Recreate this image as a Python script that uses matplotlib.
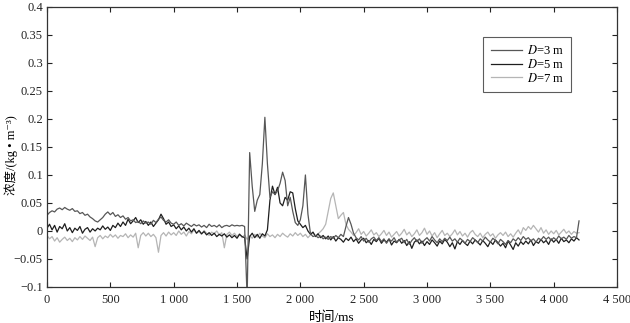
import matplotlib
matplotlib.use("Agg")
import matplotlib.pyplot as plt
import numpy as np
from matplotlib.ticker import FuncFormatter, MultipleLocator

# sample time step of the traces (ms)
T_STEP = 20

# D = 3 m concentration, kg/m^3, one value every 20 ms from 0 to 4200 ms
d3 = [
    0.028, 0.033, 0.036, 0.034, 0.039, 0.041, 0.038, 0.042, 0.039, 0.037,
    0.040, 0.035, 0.036, 0.031, 0.033, 0.028, 0.030, 0.025, 0.022, 0.018,
    0.016, 0.020, 0.024, 0.030, 0.034, 0.029, 0.033, 0.026, 0.029, 0.024,
    0.027, 0.021, 0.024, 0.018, 0.020, 0.015, 0.017, 0.013, 0.018, 0.014,
    0.016, 0.012, 0.019, 0.015, 0.021, 0.025, 0.019, 0.016, 0.020, 0.014,
    0.012, 0.016, 0.010, 0.013, 0.009, 0.014, 0.011, 0.008, 0.012, 0.009,
    0.011, 0.007, 0.010, 0.006, 0.012, 0.008, 0.010, 0.007, 0.011, 0.006,
    0.009, 0.010, 0.008, 0.011, 0.009, 0.010, 0.009, 0.010, 0.008, -0.120,
    0.140, 0.080, 0.035, 0.055, 0.065, 0.120, 0.203, 0.120, 0.060, 0.070,
    0.065, 0.072, 0.085, 0.105, 0.090, 0.045, 0.060, 0.035, 0.015, 0.010,
    0.020, 0.045, 0.100, 0.030, -0.005, -0.010, -0.008, -0.012, -0.009, -0.014,
    -0.011, -0.015, -0.010, -0.013, -0.008, -0.012, -0.006, -0.010, 0.008, 0.024,
    0.012, -0.004, -0.012, -0.016, -0.010, -0.018, -0.013, -0.020, -0.014, -0.011,
    -0.017, -0.012, -0.019, -0.014, -0.022, -0.015, -0.018, -0.012, -0.020, -0.016,
    -0.013, -0.021, -0.015, -0.024, -0.017, -0.012, -0.019, -0.014, -0.022, -0.016,
    -0.012, -0.018, -0.010, -0.016, -0.021, -0.014, -0.019, -0.013, -0.017, -0.011,
    -0.018, -0.014, -0.020, -0.013, -0.017, -0.022, -0.015, -0.019, -0.012, -0.016,
    -0.021, -0.014, -0.018, -0.011, -0.016, -0.020, -0.013, -0.017, -0.023, -0.015,
    -0.019, -0.024, -0.017, -0.021, -0.014, -0.018, -0.012, -0.017, -0.010, -0.015,
    -0.012, -0.018, -0.014, -0.020, -0.013, -0.016, -0.010, -0.015, -0.011, -0.017,
    -0.012, -0.016, -0.009, -0.014, -0.011, -0.015, -0.008, -0.013, -0.010, -0.012,
    0.018,
]

# D = 5 m
d5 = [
    0.005, 0.012, 0.002, 0.010, -0.002, 0.008, 0.004, 0.013, 0.000, 0.006,
    -0.003, 0.005, 0.001, 0.008, -0.004, 0.003, 0.006, -0.002, 0.004, 0.000,
    0.005, 0.002, 0.009, 0.003, 0.007, 0.001, 0.010, 0.006, 0.014, 0.008,
    0.016, 0.010, 0.021, 0.013, 0.018, 0.024, 0.015, 0.020, 0.012, 0.017,
    0.010, 0.016, 0.008, 0.014, 0.020, 0.030, 0.022, 0.012, 0.016, 0.008,
    0.011, 0.004, 0.009, 0.002, 0.007, 0.000, 0.005, -0.002, 0.004, -0.004,
    0.001, -0.005, -0.001, -0.007, -0.003, -0.008, -0.004, -0.010, -0.006, -0.009,
    -0.005, -0.011, -0.007, -0.012, -0.008, -0.013, -0.006, -0.010, -0.012, -0.050,
    -0.010, -0.004, -0.012, -0.006, -0.013, -0.005, -0.009, 0.002, 0.055, 0.080,
    0.065, 0.078, 0.050, 0.045, 0.060, 0.055, 0.070, 0.068, 0.040, 0.018,
    0.012, 0.006, 0.010, 0.000, -0.006, -0.002, -0.010, -0.005, -0.012, -0.008,
    -0.014, -0.009, -0.016, -0.010, -0.018, -0.012, -0.015, -0.020, -0.013, -0.017,
    -0.011, -0.019, -0.014, -0.022, -0.016, -0.013, -0.021, -0.017, -0.024, -0.015,
    -0.019, -0.013, -0.022, -0.016, -0.020, -0.014, -0.025, -0.018, -0.021, -0.015,
    -0.022, -0.017, -0.026, -0.019, -0.031, -0.020, -0.016, -0.023, -0.018, -0.026,
    -0.019, -0.024, -0.016, -0.021, -0.027, -0.018, -0.023, -0.015, -0.020, -0.028,
    -0.021, -0.032, -0.019, -0.024, -0.017, -0.022, -0.026, -0.018, -0.023, -0.016,
    -0.020, -0.025, -0.017, -0.022, -0.028, -0.019, -0.024, -0.016, -0.021, -0.027,
    -0.022, -0.030, -0.018, -0.025, -0.033, -0.021, -0.027, -0.019, -0.024, -0.018,
    -0.023, -0.016, -0.026, -0.019, -0.022, -0.015, -0.021, -0.017, -0.024, -0.014,
    -0.020, -0.015, -0.022, -0.013, -0.019, -0.016, -0.021, -0.014, -0.018, -0.012,
    -0.016,
]

# D = 7 m
d7 = [
    -0.008, -0.014, -0.010, -0.018, -0.012, -0.020, -0.015, -0.011, -0.017, -0.013,
    -0.019, -0.012, -0.016, -0.010, -0.015, -0.009, -0.013, -0.017, -0.011, -0.028,
    -0.012, -0.008, -0.014, -0.009, -0.012, -0.006, -0.011, -0.007, -0.013, -0.008,
    -0.010, -0.005, -0.012, -0.007, -0.011, -0.004, -0.030, -0.008, -0.003, -0.009,
    -0.004, -0.010, -0.006, -0.012, -0.038, -0.008, -0.003, -0.009, -0.002, -0.007,
    -0.003, -0.008, 0.000, -0.006, -0.002, -0.009, -0.001, -0.005, 0.002, -0.004,
    -0.001, -0.006, 0.001, -0.004, -0.008, -0.002, -0.005, 0.000, -0.007, -0.003,
    -0.030, -0.006, -0.002, -0.008, -0.004, -0.010, -0.005, -0.012, -0.007, -0.015,
    -0.008, -0.013, -0.006, -0.011, -0.004, -0.009, -0.012, -0.005, -0.010, -0.007,
    -0.012, -0.006, -0.010, -0.004, -0.008, -0.011, -0.005, -0.009, -0.003, -0.008,
    -0.004, -0.010, -0.006, -0.012, -0.007, -0.003, -0.009, -0.005, -0.001, 0.004,
    0.012, 0.035, 0.058, 0.068, 0.045, 0.022, 0.028, 0.033, 0.012, 0.003,
    -0.002, -0.008, -0.003, 0.004, -0.006, -0.001, -0.009, -0.004, 0.002, -0.007,
    -0.003, -0.010, -0.005, 0.001, -0.008, -0.002, -0.011, -0.006, -0.001, -0.009,
    -0.004, 0.003, -0.007, -0.002, -0.010, -0.005, 0.002, -0.008, -0.003, 0.005,
    -0.006, 0.000, -0.009, -0.003, -0.012, -0.005, 0.001, -0.008, -0.004, -0.010,
    -0.005, 0.002, -0.007, -0.001, -0.009, -0.004, -0.011, -0.003, 0.001, -0.006,
    -0.010, -0.004, -0.012, -0.006, -0.002, -0.009, -0.005, -0.013, -0.007, -0.003,
    -0.008, -0.002, -0.010, -0.005, -0.011, -0.004, 0.002, -0.006, 0.006, 0.001,
    0.008, 0.003, 0.010, 0.004, -0.002, 0.006, -0.004, 0.002, -0.006, 0.000,
    -0.005, 0.001, -0.007, -0.002, 0.003, -0.004, 0.000, -0.006, -0.001, -0.004,
    -0.003,
]

labels = ["$D$=3 m", "$D$=5 m", "$D$=7 m"]
colors = ["#575757", "#1e1e1e", "#b5b5b5"]

SERIF = ["Liberation Serif", "Noto Sans CJK SC", "DejaVu Serif"]
plt.rcParams["font.family"] = SERIF
plt.rcParams["mathtext.fontset"] = "stix"
plt.rcParams["axes.unicode_minus"] = True

t = np.arange(len(d3)) * T_STEP

fig = plt.figure(figsize=(6.3, 3.23), dpi=100)
ax = fig.add_axes([0.0746, 0.1115, 0.9048, 0.867])

# light trace underneath, darker ones on top
l7, = ax.plot(t, d7, color=colors[2], lw=0.9, label=labels[2])
l5, = ax.plot(t, d5, color=colors[1], lw=0.9, label=labels[1])
l3, = ax.plot(t, d3, color=colors[0], lw=0.9, label=labels[0])

ax.set_xlim(0, 4500)
ax.set_ylim(-0.1, 0.4)
ax.xaxis.set_major_locator(MultipleLocator(500))
ax.yaxis.set_major_locator(MultipleLocator(0.05))
ax.xaxis.set_major_formatter(FuncFormatter(lambda v, p: f"{int(round(v)):,}".replace(",", " ")))
ax.yaxis.set_major_formatter(FuncFormatter(lambda v, p: f"{round(v, 2):g}".replace("-", "\u2212")))

ax.tick_params(direction="in", top=True, right=True, length=3.5, width=0.8,
               labelsize=9, colors="#222222")
ax.tick_params(axis="x", pad=5)
ax.tick_params(axis="y", pad=3)
for s in ax.spines.values():
    s.set_color("#333333")
    s.set_linewidth(0.9)

ax.set_xlabel("时间/ms", fontsize=9.5, labelpad=4)
ax.set_ylabel("浓度/(kg • m\u207b\u00b3)", fontsize=9)
ax.yaxis.set_label_coords(-0.05, 0.47)

leg = ax.legend(handles=[l3, l5, l7], loc="upper left", bbox_to_anchor=(0.765, 0.893),
                borderaxespad=0, fontsize=9, frameon=True, fancybox=False,
                handlelength=2.5, handletextpad=0.4, labelspacing=0.05, borderpad=0.6)
leg.get_frame().set_edgecolor("#333333")
leg.get_frame().set_linewidth(0.8)

fig.savefig("out.png", dpi=100)
